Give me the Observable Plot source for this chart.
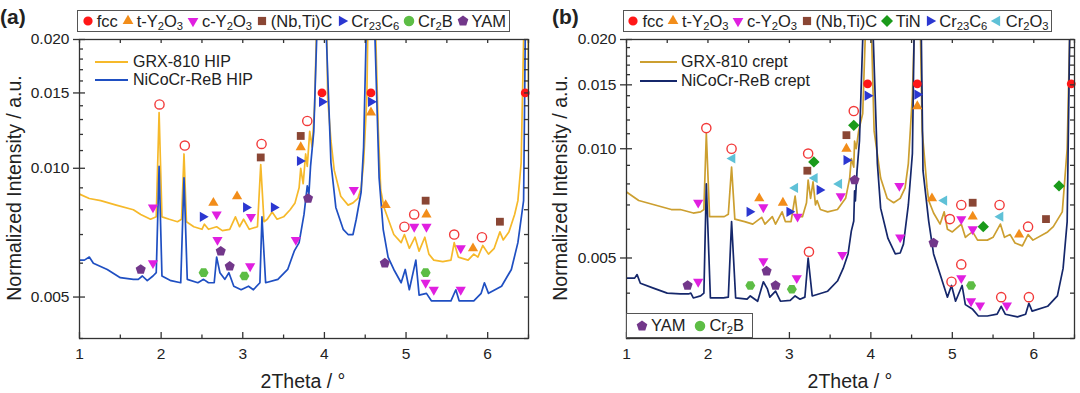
<!DOCTYPE html>
<html><head><meta charset="utf-8">
<script src="https://cdn.jsdelivr.net/npm/d3@7"></script>
<script src="https://cdn.jsdelivr.net/npm/@observablehq/plot@0.6"></script>
<style>
html,body{margin:0;padding:0;background:#fff;}
#root{position:relative;width:1080px;height:393px;overflow:hidden;font-family:"Liberation Sans",Arial,sans-serif;color:#222;}
.chart{position:absolute;top:0;}
.ov{position:absolute;white-space:nowrap;line-height:1;}
.legbox{position:absolute;box-sizing:border-box;border:1px solid #555;background:#fff;display:flex;align-items:center;justify-content:space-evenly;font-size:16.5px;white-space:nowrap;}
.item{display:flex;align-items:center;gap:2px;}
.item svg{display:block;}
sub{font-size:68%;vertical-align:-0.3em;line-height:0;}
.tag{font-weight:bold;font-size:21px;}
.ytitle{font-size:19.5px;transform:translate(-50%,-50%) rotate(-90deg);}
.xtitle{font-size:19.5px;transform:translate(-50%,-50%);}
.sw{position:absolute;height:2px;}
.lt{font-size:16px;transform:translateY(-50%);}
</style></head><body><div id="root"></div>
<script>
// ---------------- DATA ----------------
// Panel (a): [2Theta, normalized intensity]
const grxHIP = [[1.00,0.0087],[1.12,0.0085],[1.26,0.0084],[1.45,0.0082],[1.66,0.0080],[1.75,0.0078],[1.87,0.0076],[1.94,0.0077],[1.975,0.0135],[2.01,0.0077],[2.10,0.0076],[2.20,0.0075],[2.25,0.0076],[2.28,0.0108],[2.31,0.0075],[2.40,0.0073],[2.50,0.0072],[2.53,0.0074],[2.58,0.0072],[2.68,0.0073],[2.75,0.00715],[2.84,0.0072],[2.91,0.0077],[2.96,0.0073],[3.01,0.0076],[3.08,0.0072],[3.18,0.0073],[3.22,0.0102],[3.26,0.0075],[3.30,0.0076],[3.36,0.0079],[3.42,0.0076],[3.50,0.0077],[3.58,0.0080],[3.64,0.0083],[3.69,0.0090],[3.71,0.0100],[3.74,0.0092],[3.77,0.0108],[3.79,0.0101],[3.82,0.0122],[3.85,0.0112],[3.88,0.0140],[3.90,0.02],[3.965,0.1],[4.03,0.02],[4.04,0.0146],[4.08,0.0116],[4.12,0.0099],[4.20,0.0086],[4.29,0.0082],[4.35,0.0083],[4.41,0.0085],[4.45,0.0090],[4.48,0.0103],[4.52,0.0146],[4.53,0.02],[4.575,0.1],[4.63,0.02],[4.66,0.0123],[4.69,0.0089],[4.73,0.0081],[4.85,0.0070],[4.94,0.0067],[4.98,0.0070],[5.04,0.0065],[5.11,0.0069],[5.16,0.0064],[5.23,0.0069],[5.28,0.0063],[5.34,0.0061],[5.45,0.00605],[5.55,0.0061],[5.59,0.0067],[5.64,0.0062],[5.76,0.0061],[5.83,0.0063],[5.88,0.0062],[5.94,0.0066],[6.01,0.0063],[6.08,0.0065],[6.15,0.0071],[6.19,0.0068],[6.26,0.0071],[6.33,0.0078],[6.37,0.0084],[6.41,0.0103],[6.44,0.02],[6.475,0.1],[6.50,0.0145]];
const nicoHIP = [[1.00,0.0061],[1.06,0.0061],[1.12,0.0062],[1.17,0.0060],[1.34,0.0058],[1.50,0.00555],[1.66,0.0055],[1.72,0.0055],[1.77,0.0056],[1.83,0.00546],[1.90,0.0056],[1.94,0.0057],[1.975,0.0101],[2.01,0.0056],[2.12,0.00546],[2.24,0.0054],[2.28,0.0095],[2.32,0.0055],[2.45,0.0054],[2.52,0.0055],[2.58,0.0054],[2.65,0.0054],[2.68,0.0062],[2.72,0.0057],[2.78,0.0055],[2.83,0.0057],[2.89,0.0053],[2.98,0.0052],[3.07,0.0053],[3.13,0.0052],[3.21,0.0054],[3.235,0.0077],[3.28,0.0054],[3.43,0.0055],[3.55,0.0058],[3.63,0.0064],[3.69,0.0067],[3.75,0.0078],[3.79,0.0091],[3.81,0.0087],[3.83,0.0101],[3.87,0.0122],[3.905,0.02],[3.965,0.1],[4.025,0.02],[4.08,0.0103],[4.14,0.0081],[4.23,0.0072],[4.29,0.0070],[4.35,0.0070],[4.39,0.0076],[4.45,0.0088],[4.48,0.0112],[4.51,0.02],[4.575,0.1],[4.62,0.02],[4.67,0.0095],[4.72,0.0072],[4.78,0.0062],[4.85,0.0058],[4.94,0.0054],[4.99,0.0058],[5.04,0.0052],[5.12,0.0061],[5.16,0.00505],[5.25,0.0051],[5.31,0.0049],[5.43,0.0049],[5.55,0.0049],[5.61,0.0052],[5.65,0.0049],[5.83,0.0049],[5.92,0.0051],[5.96,0.0054],[6.01,0.0051],[6.17,0.0053],[6.29,0.0058],[6.37,0.0067],[6.44,0.0084],[6.46,0.02],[6.48,0.1],[6.50,0.03]];
// Panel (b)
const grxCrept = [[1.00,0.0076],[1.15,0.0072],[1.35,0.0070],[1.55,0.0068],[1.66,0.0068],[1.82,0.00665],[1.91,0.0067],[1.95,0.0068],[1.98,0.0110],[2.02,0.0065],[2.20,0.0065],[2.25,0.0066],[2.29,0.0089],[2.33,0.0064],[2.45,0.0063],[2.55,0.0062],[2.66,0.00647],[2.70,0.0062],[2.79,0.0065],[2.83,0.0062],[2.91,0.0067],[2.95,0.0063],[3.02,0.0063],[3.07,0.0074],[3.10,0.0065],[3.16,0.0065],[3.21,0.0071],[3.23,0.0082],[3.26,0.0073],[3.29,0.0081],[3.32,0.0070],[3.34,0.0072],[3.38,0.0068],[3.47,0.0067],[3.59,0.0068],[3.69,0.0073],[3.74,0.0083],[3.76,0.0094],[3.79,0.0089],[3.80,0.0105],[3.82,0.0100],[3.85,0.0112],[3.90,0.0125],[3.93,0.02],[3.97,0.1],[4.01,0.02],[4.04,0.0112],[4.12,0.0083],[4.20,0.0073],[4.28,0.0071],[4.36,0.0073],[4.42,0.0078],[4.46,0.0091],[4.51,0.0140],[4.53,0.02],[4.57,0.1],[4.61,0.02],[4.63,0.0112],[4.69,0.0078],[4.71,0.0072],[4.77,0.00665],[4.85,0.0062],[4.90,0.0067],[4.94,0.0060],[5.00,0.0059],[5.11,0.0062],[5.16,0.0057],[5.20,0.0058],[5.25,0.0059],[5.31,0.0056],[5.43,0.0056],[5.50,0.0057],[5.59,0.0062],[5.64,0.0057],[5.71,0.0058],[5.77,0.0055],[5.86,0.0054],[5.93,0.0058],[5.99,0.0056],[6.17,0.0059],[6.24,0.0061],[6.35,0.0067],[6.41,0.0100],[6.44,0.02],[6.475,0.1],[6.50,0.05]];
const nicoCrept = [[1.00,0.0044],[1.10,0.0044],[1.13,0.0045],[1.17,0.00426],[1.33,0.00413],[1.50,0.0040],[1.66,0.00398],[1.76,0.00398],[1.79,0.0040],[1.82,0.00388],[1.91,0.00393],[1.95,0.0040],[1.98,0.0080],[2.03,0.00388],[2.19,0.00388],[2.25,0.0039],[2.29,0.0063],[2.34,0.00388],[2.48,0.00385],[2.52,0.00393],[2.61,0.0038],[2.68,0.0043],[2.73,0.00411],[2.76,0.0039],[2.83,0.00405],[2.89,0.0038],[3.01,0.00382],[3.07,0.00393],[3.13,0.00385],[3.19,0.0039],[3.23,0.0050],[3.28,0.00393],[3.47,0.00405],[3.59,0.00432],[3.66,0.00468],[3.72,0.00513],[3.76,0.00593],[3.79,0.00632],[3.80,0.00765],[3.81,0.00718],[3.83,0.00869],[3.86,0.0105],[3.90,0.02],[3.965,0.1],[4.03,0.02],[4.08,0.0091],[4.12,0.00686],[4.21,0.00566],[4.30,0.00513],[4.36,0.00516],[4.40,0.00546],[4.46,0.0070],[4.51,0.0097],[4.53,0.02],[4.575,0.1],[4.62,0.02],[4.64,0.0087],[4.71,0.00632],[4.77,0.00513],[4.85,0.00451],[4.94,0.0039],[4.99,0.0042],[5.04,0.0038],[5.12,0.0042],[5.16,0.00372],[5.25,0.00361],[5.32,0.00346],[5.43,0.00346],[5.55,0.0035],[5.60,0.00368],[5.65,0.0035],[5.80,0.00344],[5.90,0.0035],[5.94,0.00375],[5.98,0.00357],[6.17,0.00368],[6.29,0.00393],[6.36,0.00468],[6.41,0.0063],[6.44,0.02],[6.47,0.1],[6.50,0.05]];

// Phase markers: [phase, 2Theta, intensity]
const peaksA = [["fcc",3.97,0.0150],["fcc",4.57,0.0150],["fcc",6.46,0.0150],
["fccOpen",1.98,0.0141],["fccOpen",2.29,0.0113],["fccOpen",3.23,0.0114],["fccOpen",3.79,0.0129],["fccOpen",4.98,0.0073],["fccOpen",5.10,0.0078],["fccOpen",5.59,0.0070],["fccOpen",5.93,0.0069],
["tY2O3",2.64,0.0083],["tY2O3",2.93,0.0086],["tY2O3",3.71,0.0112],["tY2O3",4.57,0.0135],["tY2O3",4.75,0.0082],["tY2O3",5.25,0.0078],["tY2O3",5.82,0.0065],
["cY2O3",1.90,0.0081],["cY2O3",2.68,0.0078],["cY2O3",3.10,0.0077],["cY2O3",4.36,0.0089],["cY2O3",5.10,0.0073],["cY2O3",5.25,0.0073],["cY2O3",5.67,0.0065],["cY2O3",1.90,0.0060],["cY2O3",2.69,0.0068],["cY2O3",3.09,0.0059],["cY2O3",3.65,0.0068],["cY2O3",5.24,0.0054],["cY2O3",5.34,0.0052],["cY2O3",5.67,0.0052],
["NbTiC",3.22,0.0106],["NbTiC",3.71,0.0119],["NbTiC",5.24,0.0084],["NbTiC",6.15,0.0075],
["Cr23C6",2.51,0.0077],["Cr23C6",3.04,0.0081],["Cr23C6",3.38,0.0081],["Cr23C6",3.70,0.0104],["Cr23C6",3.97,0.0143],["Cr23C6",4.57,0.0143],
["Cr2B",2.52,0.0057],["Cr2B",3.02,0.0056],["Cr2B",5.24,0.0057],
["YAM",1.75,0.0058],["YAM",2.73,0.0064],["YAM",2.84,0.0059],["YAM",3.80,0.0085],["YAM",4.74,0.0060]];
const peaksB = [["fcc",3.96,0.0151],["fcc",4.57,0.0151],["fcc",6.46,0.0151],
["fccOpen",1.98,0.0114],["fccOpen",2.29,0.0100],["fccOpen",3.23,0.0097],["fccOpen",3.79,0.0127],["fccOpen",4.97,0.0064],["fccOpen",5.11,0.0070],["fccOpen",5.58,0.0070],["fccOpen",5.93,0.0061],["fccOpen",3.24,0.0052],["fccOpen",4.99,0.0043],["fccOpen",5.11,0.0048],["fccOpen",5.60,0.0039],["fccOpen",5.94,0.0039],
["tY2O3",2.63,0.0073],["tY2O3",2.92,0.0071],["tY2O3",3.70,0.0100],["tY2O3",4.57,0.0131],["tY2O3",4.75,0.0073],["tY2O3",5.25,0.0065],["tY2O3",5.82,0.0058],
["cY2O3",1.88,0.0071],["cY2O3",2.68,0.0069],["cY2O3",3.10,0.0065],["cY2O3",3.63,0.0074],["cY2O3",4.35,0.0079],["cY2O3",5.11,0.0064],["cY2O3",5.25,0.0060],["cY2O3",1.88,0.0043],["cY2O3",2.68,0.0049],["cY2O3",3.09,0.0044],["cY2O3",3.65,0.0051],["cY2O3",4.36,0.0057],["cY2O3",5.11,0.0044],["cY2O3",5.23,0.0038],["cY2O3",5.34,0.0037],["cY2O3",5.67,0.0037],
["NbTiC",3.22,0.0087],["NbTiC",3.70,0.0109],["NbTiC",5.25,0.0071],["NbTiC",6.15,0.0064],
["TiN",3.30,0.0092],["TiN",3.79,0.0116],["TiN",5.38,0.0061],["TiN",6.31,0.0079],
["Cr23C6",2.51,0.0067],["Cr23C6",3.00,0.0067],["Cr23C6",3.37,0.0077],["Cr23C6",3.70,0.0093],["Cr23C6",3.96,0.0140],["Cr23C6",4.57,0.0141],
["Cr2O3",2.30,0.0094],["Cr2O3",3.07,0.0078],["Cr2O3",3.31,0.0083],["Cr2O3",3.61,0.0080],["Cr2O3",4.90,0.0072],["Cr2O3",5.59,0.0065],
["YAM",1.75,0.0042],["YAM",2.72,0.0046],["YAM",2.83,0.0042],["YAM",3.80,0.0082],["YAM",4.77,0.0055],
["Cr2B",2.52,0.0042],["Cr2B",3.03,0.0041],["Cr2B",5.23,0.0042]];

const xMajor = [1,2,3,4,5,6];
const xMinor = [1.5,2.5,3.5,4.5,5.5,6.5];
const yMajor = [0.005,0.010,0.015,0.020];
const yMinorA = [0.004,0.006,0.007,0.008,0.009,0.011,0.012,0.013,0.014,0.016,0.017,0.018,0.019];
const yMinorB = [0.003,0.004,0.006,0.007,0.008,0.009,0.011,0.012,0.013,0.014,0.016,0.017,0.018,0.019];
const seriesA = ["GRX-810 HIP","NiCoCr-ReB HIP"];
const seriesB = ["GRX-810 crept","NiCoCr-ReB crept"];
const legendA = ["fcc","tY2O3","cY2O3","NbTiC","Cr23C6","Cr2B","YAM"];
const legendB = ["fcc","tY2O3","cY2O3","NbTiC","TiN","Cr23C6","Cr2O3"];
const legendB2 = ["YAM","Cr2B"];

// ---------------- STYLE ----------------
const PH = {
  fcc:{label:"fcc",color:"#ff1717",shape:"circle",r:4.4},
  fccOpen:{label:"fcc",color:"#f23a3a",shape:"circle",r:4.6,open:true},
  tY2O3:{label:"t-Y<sub>2</sub>O<sub>3</sub>",color:"#f28d1a",shape:"up",r:5.9},
  cY2O3:{label:"c-Y<sub>2</sub>O<sub>3</sub>",color:"#e01fe0",shape:"down",r:5.9},
  NbTiC:{label:"(Nb,Ti)C",color:"#8a4634",shape:"square",r:5.2},
  Cr23C6:{label:"Cr<sub>23</sub>C<sub>6</sub>",color:"#2b37d1",shape:"right",r:5.9},
  Cr2B:{label:"Cr<sub>2</sub>B",color:"#5dbd45",shape:"hexagon",legendShape:"circle",r:5},
  YAM:{label:"YAM",color:"#72378a",shape:"pentagon",r:5.3},
  TiN:{label:"TiN",color:"#1a9a1a",shape:"diamond",r:5.7},
  Cr2O3:{label:"Cr<sub>2</sub>O<sub>3</sub>",color:"#5fc1d7",shape:"left",r:5.9}
};
const S3 = Math.sqrt(3)/2;
function poly(c, r, n, a0){ for(let i=0;i<n;i++){const a=a0+i*2*Math.PI/n; const x=r*Math.cos(a), y=r*Math.sin(a); i?c.lineTo(x,y):c.moveTo(x,y);} c.closePath(); }
const SHAPES = {
  circle(c,r){c.moveTo(r,0);c.arc(0,0,r,0,2*Math.PI);},
  up(c,r){c.moveTo(0,-r);c.lineTo(r*S3,r/2);c.lineTo(-r*S3,r/2);c.closePath();},
  down(c,r){c.moveTo(0,r);c.lineTo(r*S3,-r/2);c.lineTo(-r*S3,-r/2);c.closePath();},
  right(c,r){c.moveTo(r,0);c.lineTo(-r/2,r*S3);c.lineTo(-r/2,-r*S3);c.closePath();},
  left(c,r){c.moveTo(-r,0);c.lineTo(r/2,r*S3);c.lineTo(r/2,-r*S3);c.closePath();},
  square(c,r){const h=r*0.75;c.rect(-h,-h,2*h,2*h);},
  diamond(c,r){c.moveTo(0,-r);c.lineTo(r,0);c.lineTo(0,r);c.lineTo(-r,0);c.closePath();},
  pentagon(c,r){poly(c,r,5,-Math.PI/2);},
  hexagon(c,r){poly(c,r,6,0);}
};
const symbolOf = shape => ({draw(c,size){SHAPES[shape](c,Math.sqrt(size/Math.PI));}});

const FONT = '"Liberation Sans", Arial, sans-serif';
const W = 540, H = 393, MT = 39, MB = 55;
function makePanel({grx, nico, peaks, yDomain, yMinor, colors, ml, mr}) {
  const keys = ["fccOpen","YAM","Cr2B","cY2O3","tY2O3","NbTiC","TiN","Cr2O3","Cr23C6","fcc"];
  const dots = keys.map(k => {
    const p = PH[k], d = peaks.filter(e => e[0] === k);
    return Plot.dot(d, {x: e => e[1], y: e => e[2], symbol: symbolOf(p.shape), r: p.r,
      fill: p.open ? "none" : p.color, stroke: p.open ? p.color : "none", strokeWidth: p.open ? 1.4 : 0});
  });
  const fw = W - ml - mr, fh = H - MT - MB;
  const tk = {stroke: "#333", strokeWidth: 1.3};
  return Plot.plot({
    width: W, height: H, marginTop: MT, marginBottom: MB, marginLeft: ml, marginRight: mr,
    style: {fontFamily: FONT, fontSize: "15.5px", color: "#222", background: "transparent"},
    x: {domain: [1, 6.5]},
    y: {type: "log", domain: yDomain},
    marks: [
      Plot.line(grx, {x: d => d[0], y: d => d[1], stroke: colors[0], strokeWidth: 1.7, clip: true}),
      Plot.line(nico, {x: d => d[0], y: d => d[1], stroke: colors[1], strokeWidth: 1.7, clip: true}),
      ...dots,
      Plot.frame({stroke: "#333", strokeWidth: 1.3}),
      // ticks: bottom (inward), top (inward), left (major crossing, minor inward), right (inward)
      Plot.tickX(xMajor, {x: d => d, insetTop: fh - 6, ...tk}),
      Plot.tickX(xMinor, {x: d => d, insetTop: fh - 3.5, ...tk}),
      Plot.tickX(xMajor.concat(xMinor), {x: d => d, insetBottom: fh - 4, ...tk}),
      Plot.tickY(yMajor, {y: d => d, insetLeft: -6, insetRight: fw - 6, ...tk}),
      Plot.tickY(yMinor, {y: d => d, insetRight: fw - 4, ...tk}),
      Plot.tickY(yMajor.concat(yMinor), {y: d => d, insetLeft: fw - 4, ...tk}),
      Plot.axisX({ticks: xMajor, tickSize: 0, tickPadding: 9, tickFormat: d => String(d), label: null}),
      Plot.axisY({ticks: yMajor, tickSize: 0, tickPadding: 10, tickFormat: d3.format(".3f"), label: null})
    ]
  });
}

const root = document.getElementById("root");
function place(el, left, top){ el.style.left = left + "px"; el.style.top = top + "px"; root.appendChild(el); return el; }
function div(cls, html){ const e = document.createElement("div"); e.className = cls; e.innerHTML = html; return e; }
function legendSym(key){
  const p = PH[key], c = d3.path(); SHAPES[p.legendShape || p.shape](c, p.r * 1.05);
  return `<svg width="14" height="14" viewBox="-7 -7 14 14"><path d="${c}" fill="${p.color}"/></svg>`;
}
function legendBox(keys, left, top, w, h){
  const b = div("legbox", keys.map(k => `<span class="item">${legendSym(k)}<span>${PH[k].label}</span></span>`).join(""));
  b.style.width = w + "px"; b.style.height = h + "px";
  return place(b, left, top);
}

const colA = ["#f6b92a","#1f4fc2"], colB = ["#cc9f30","#15276b"];
const svgA = makePanel({grx: grxHIP, nico: nicoHIP, peaks: peaksA, yDomain: [0.004, 0.02], yMinor: yMinorA, colors: colA, ml: 79, mr: 12});
const svgB = makePanel({grx: grxCrept, nico: nicoCrept, peaks: peaksB, yDomain: [0.003, 0.02], yMinor: yMinorB, colors: colB, ml: 86, mr: 6});
const ca = div("chart", ""); ca.appendChild(svgA); place(ca, 0, 0);
const cb = div("chart", ""); cb.appendChild(svgB); place(cb, 540, 0);

// overlays
place(div("ov tag", "(a)"), 0, 6);
place(div("ov tag", "(b)"), 552, 6);
legendBox(legendA, 77, 10, 433, 22);
legendBox(legendB, 623, 10, 429, 22);
legendBox(legendB2, 626, 313, 127, 25);
function lineLegend(names, cols, x0, w, tx, ys){
  names.forEach((n, i) => {
    const s = div("sw", ""); s.style.width = w + "px"; s.style.background = cols[i]; place(s, x0, ys[i] - 1);
    place(div("ov lt", n), tx, ys[i]);
  });
}
lineLegend(seriesA, colA, 95, 33, 133, [62, 80]);
lineLegend(seriesB, colB, 640, 37, 681, [62, 81]);
place(div("ov ytitle", "Normalized Intensity / a.u."), 15, 188);
place(div("ov ytitle", "Normalized Intensity / a.u."), 561, 188);
place(div("ov xtitle", "2Theta / °"), 303, 382);
place(div("ov xtitle", "2Theta / °"), 850, 382);
</script></body></html>
